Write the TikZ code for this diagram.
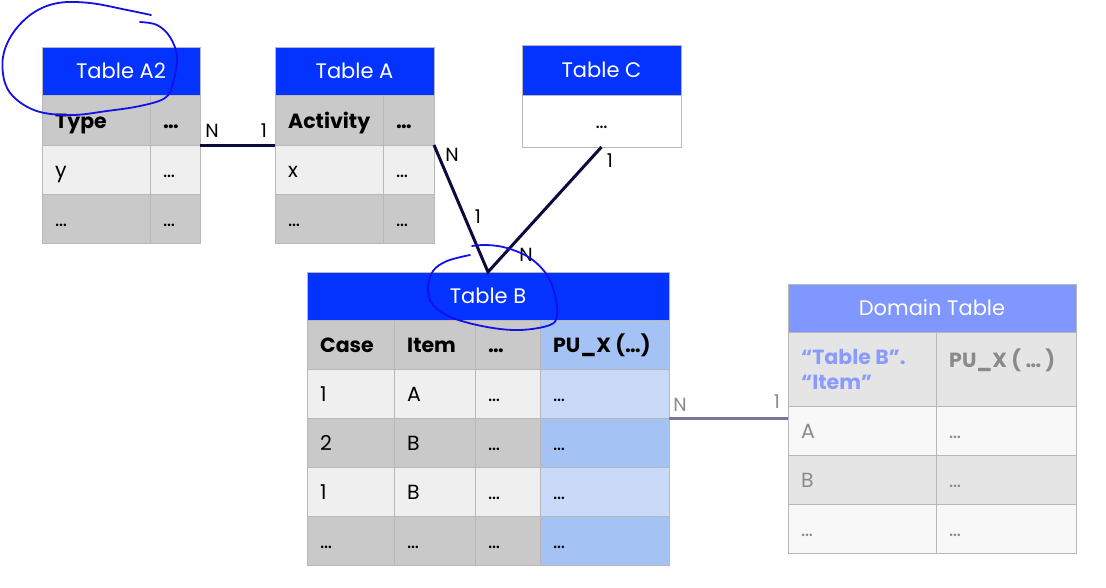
\documentclass[tikz,border=0pt]{standalone}
\usepackage{fontspec}
\setmainfont{Poppins}
\definecolor{hdrblue}{HTML}{0433FF}
\definecolor{domblue}{HTML}{8097FF}
\definecolor{dkgray}{HTML}{C9C9C9}
\definecolor{ltgray}{HTML}{EFEFEF}
\definecolor{bluedk}{HTML}{A4C2F4}
\definecolor{bluelt}{HTML}{C9DAF8}
\definecolor{domdk}{HTML}{E5E5E5}
\definecolor{domlt}{HTML}{F8F8F8}
\definecolor{domtxt}{HTML}{8A8A8A}
\definecolor{domkey}{HTML}{8A9BFF}
\definecolor{cellborder}{HTML}{B8B8B8}
\definecolor{linknavy}{HTML}{0B0B3E}
\definecolor{linkgray}{HTML}{76769A}
\definecolor{penblue}{HTML}{1212E6}
\newcommand\cellfont{\fontsize{20.5}{25}\selectfont}
\newcommand\titlefont{\fontsize{21}{25}\selectfont}
\tikzset{
  cellbox/.style={draw=cellborder, line width=0.9pt, anchor=north west, inner sep=0pt, outer sep=0pt},
  celltxt/.style={anchor=west, inner sep=0pt, font=\cellfont, text height=14pt, text depth=0pt},
  titletxt/.style={inner sep=0pt, font=\titlefont, text=white, text height=14.5pt, text depth=0pt},
  cardlbl/.style={inner sep=0pt, font=\fontsize{19}{22}\selectfont, text=black},
  domlbl/.style={inner sep=0pt, font=\fontsize{19}{22}\selectfont, text=domtxt},
  link/.style={draw=linknavy, line width=3pt},
  domlink/.style={draw=linkgray, line width=3pt},
  pen/.style={draw=penblue, line width=1.8pt, line cap=round, line join=round},
}
% name, x, y, w, h, fill, text
\newcommand\tcell[7]{%
  \node[cellbox, fill=#6, minimum width=#4pt, minimum height=#5pt] (#1) at (#2,#3) {};
  \node[celltxt] (#1t) at ([xshift=13pt,yshift=-1pt]#1.west) {#7};}
% name, x, y, w, h, fill, text
\newcommand\ttitle[7]{%
  \node[cellbox, fill=#6, minimum width=#4pt, minimum height=#5pt] (#1) at (#2,#3) {};
  \node[titletxt] (#1t) at (#1.center) {#7};}
\begin{document}
\begin{tikzpicture}[x=1pt,y=-1pt]
\useasboundingbox (0,0) rectangle (1106,587);

% ---- Table A2
\ttitle{a2}{42}{47}{158}{48}{hdrblue}{Table A2}
\tcell{a2h1}{42}{95}{108}{50}{dkgray}{\textbf{Type}}
\tcell{a2h2}{150}{95}{50}{50}{dkgray}{\textbf{…}}
\tcell{a2r1c1}{42}{145}{108}{49}{ltgray}{y}
\tcell{a2r1c2}{150}{145}{50}{49}{ltgray}{…}
\tcell{a2r2c1}{42}{194}{108}{49}{dkgray}{…}
\tcell{a2r2c2}{150}{194}{50}{49}{dkgray}{…}

% ---- Table A
\ttitle{ta}{275}{47}{159}{48}{hdrblue}{Table A}
\tcell{ah1}{275}{95}{108}{50}{dkgray}{\textbf{Activity}}
\tcell{ah2}{383}{95}{51}{50}{dkgray}{\textbf{…}}
\tcell{ar1c1}{275}{145}{108}{49}{ltgray}{x}
\tcell{ar1c2}{383}{145}{51}{49}{ltgray}{…}
\tcell{ar2c1}{275}{194}{108}{49}{dkgray}{…}
\tcell{ar2c2}{383}{194}{51}{49}{dkgray}{…}

% ---- Table C
\ttitle{tc}{522}{45}{159}{50}{hdrblue}{Table C}
\node[cellbox, fill=white, minimum width=159pt, minimum height=52pt] (tcb) at (522,95) {};
\node[celltxt, anchor=center] (tcbt) at (tcb.center) {…};

% ---- Table B
\ttitle{tb}{307}{272}{362}{48}{hdrblue}{Table B}
\tcell{bh1}{307}{320}{87}{49}{dkgray}{\textbf{Case}}
\tcell{bh2}{394}{320}{81}{49}{dkgray}{\textbf{Item}}
\tcell{bh3}{475}{320}{65}{49}{dkgray}{\textbf{…}}
\tcell{bh4}{540}{320}{129}{49}{bluedk}{\textbf{PU\_X (…)}}
\tcell{b1c1}{307}{369}{87}{49}{ltgray}{1}
\tcell{b1c2}{394}{369}{81}{49}{ltgray}{A}
\tcell{b1c3}{475}{369}{65}{49}{ltgray}{…}
\tcell{b1c4}{540}{369}{129}{49}{bluelt}{…}
\tcell{b2c1}{307}{418}{87}{49}{dkgray}{2}
\tcell{b2c2}{394}{418}{81}{49}{dkgray}{B}
\tcell{b2c3}{475}{418}{65}{49}{dkgray}{…}
\tcell{b2c4}{540}{418}{129}{49}{bluedk}{…}
\tcell{b3c1}{307}{467}{87}{49}{ltgray}{1}
\tcell{b3c2}{394}{467}{81}{49}{ltgray}{B}
\tcell{b3c3}{475}{467}{65}{49}{ltgray}{…}
\tcell{b3c4}{540}{467}{129}{49}{bluelt}{…}
\tcell{b4c1}{307}{516}{87}{49}{dkgray}{…}
\tcell{b4c2}{394}{516}{81}{49}{dkgray}{…}
\tcell{b4c3}{475}{516}{65}{49}{dkgray}{…}
\tcell{b4c4}{540}{516}{129}{49}{bluedk}{…}

% ---- Domain Table
\ttitle{dt}{788}{284}{288}{48}{domblue}{Domain Table}
\node[cellbox, fill=domdk, minimum width=148pt, minimum height=74pt] (dh1) at (788,332) {};
\node[anchor=north west, inner sep=0pt, align=left, font=\cellfont\bfseries, text=domkey] (dh1t)
  at ([xshift=13pt,yshift=-17pt]dh1.north west) {“Table B”.\\“Item”};
\node[cellbox, fill=domdk, minimum width=140pt, minimum height=74pt] (dh2) at (936,332) {};
\node[anchor=north west, inner sep=0pt, font=\cellfont\bfseries, text=domtxt] (dh2t)
  at ([xshift=13pt,yshift=-17pt]dh2.north west) {PU\_X ( … )};
\tcell{d1c1}{788}{406}{148}{49}{domlt}{\textcolor{domtxt}{A}}
\tcell{d1c2}{936}{406}{140}{49}{domlt}{\textcolor{domtxt}{…}}
\tcell{d2c1}{788}{455}{148}{49}{domdk}{\textcolor{domtxt}{B}}
\tcell{d2c2}{936}{455}{140}{49}{domdk}{\textcolor{domtxt}{…}}
\tcell{d3c1}{788}{504}{148}{49}{domlt}{\textcolor{domtxt}{…}}
\tcell{d3c2}{936}{504}{140}{49}{domlt}{\textcolor{domtxt}{…}}

% ---- connectors
\draw[link] (a2h2.south east) -- (ah1.south west);
\draw[link, line join=miter] (ah2.south east) -- (tb.north) -- (tcb.south);
\draw[domlink] (b1c4.south east) -- (b1c4.south east -| dt.west);

% ---- cardinality labels
\node[cardlbl] (l1) at (212,131) {N};
\node[cardlbl] (l2) at (264,131) {1};
\node[cardlbl] (l3) at (452,155) {N};
\node[cardlbl] (l4) at (478,217) {1};
\node[cardlbl] (l5) at (526,255) {N};
\node[cardlbl] (l6) at (610,161) {1};
\node[domlbl] (l7) at (680,405) {N};
\node[domlbl] (l8) at (777,402) {1};

% ---- hand-drawn circles
\draw[pen] plot[smooth, tension=0.6] coordinates {(151,15) (127,10) (90,3) (58,3) (33,13) (13,33) (3,57) (5,83) (17,100) (40,112) (73,115) (107,111) (140,106) (165,98) (173,83) (177,57) (170,37) (157,25) (140,22)};
\draw[pen] plot[smooth, tension=0.6] coordinates {(470,255) (447,261) (433,271) (428,288) (433,305) (453,318) (487,327) (520,330) (550,325) (557,315) (555,295) (547,275) (530,258) (507,248) (487,245) (472,246)};
\end{tikzpicture}
\end{document}
